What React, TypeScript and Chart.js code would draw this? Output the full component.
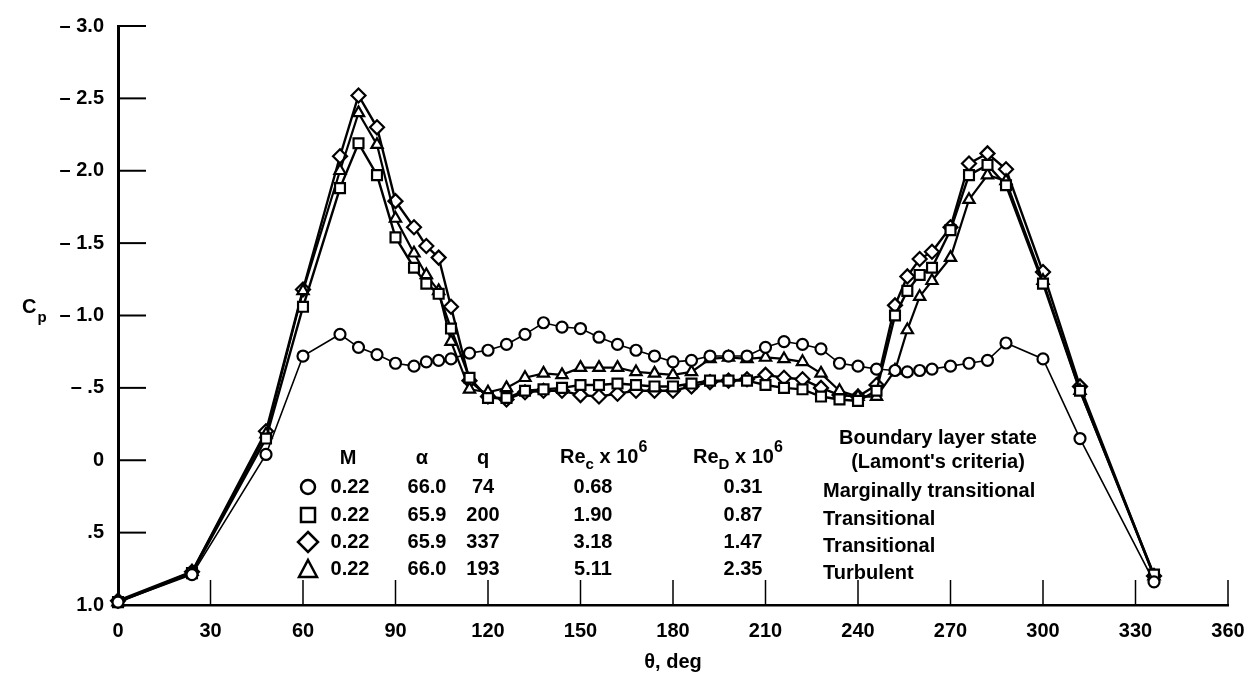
import React, { useEffect, useRef } from 'react';
import { Chart, registerables } from 'chart.js';

Chart.register(...registerables);

// ---------- data ----------
const THETA = [0, 24, 48, 60, 72, 78, 84, 90, 96, 100, 104, 108, 114, 120, 126, 132, 138, 144, 150, 156, 162, 168, 174, 180, 186, 192, 198, 204, 210, 216, 222, 228, 234, 240, 246, 252, 256, 260, 264, 270, 276, 282, 288, 300, 312, 336];

const CP_CIRCLE = [0.98, 0.79, -0.04, -0.72, -0.87, -0.78, -0.73, -0.67, -0.65, -0.68, -0.69, -0.70, -0.74, -0.76, -0.80, -0.87, -0.95, -0.92, -0.91, -0.85, -0.80, -0.76, -0.72, -0.68, -0.69, -0.72, -0.72, -0.72, -0.78, -0.82, -0.80, -0.77, -0.67, -0.65, -0.63, -0.62, -0.61, -0.62, -0.63, -0.65, -0.67, -0.69, -0.81, -0.70, -0.15, 0.84];

const CP_SQUARE = [0.98, 0.78, -0.15, -1.06, -1.88, -2.19, -1.97, -1.54, -1.33, -1.22, -1.15, -0.91, -0.57, -0.43, -0.43, -0.48, -0.49, -0.50, -0.52, -0.52, -0.53, -0.52, -0.51, -0.51, -0.53, -0.55, -0.55, -0.55, -0.52, -0.50, -0.49, -0.44, -0.42, -0.41, -0.48, -1.00, -1.17, -1.28, -1.33, -1.59, -1.97, -2.04, -1.90, -1.22, -0.48, 0.79];

const CP_DIAMOND = [0.97, 0.77, -0.20, -1.18, -2.10, -2.52, -2.30, -1.79, -1.61, -1.48, -1.40, -1.06, -0.55, -0.44, -0.42, -0.47, -0.48, -0.48, -0.45, -0.44, -0.46, -0.48, -0.48, -0.48, -0.51, -0.54, -0.55, -0.56, -0.59, -0.57, -0.56, -0.50, -0.45, -0.44, -0.52, -1.07, -1.27, -1.39, -1.44, -1.61, -2.05, -2.12, -2.01, -1.30, -0.51, 0.80];

const CP_TRIANGLE = [0.98, 0.77, -0.18, -1.17, -2.00, -2.40, -2.18, -1.67, -1.43, -1.28, -1.17, -0.82, -0.49, -0.47, -0.50, -0.57, -0.60, -0.59, -0.64, -0.64, -0.64, -0.61, -0.60, -0.59, -0.61, -0.70, -0.71, -0.70, -0.71, -0.70, -0.68, -0.60, -0.48, -0.44, -0.44, -0.62, -0.90, -1.13, -1.24, -1.40, -1.80, -1.97, -1.93, -1.24, -0.48, 0.80];

const X_TICKS = [0, 30, 60, 90, 120, 150, 180, 210, 240, 270, 300, 330, 360];
const Y_TICKS = [-3, -2.5, -2, -1.5, -1, -0.5, 0, 0.5, 1];
const Y_TICK_LABELS = ['– 3.0', '– 2.5', '– 2.0', '– 1.5', '– 1.0', '– .5', '0', '.5', '1.0'];

const LEG_SYMBOLS = ['circle', 'rect', 'rectRot', 'triangle'];
const LEG_M = ['0.22', '0.22', '0.22', '0.22'];
const LEG_ALPHA = ['66.0', '65.9', '65.9', '66.0'];
const LEG_Q = ['74', '200', '337', '193'];
const LEG_REC = ['0.68', '1.90', '3.18', '5.11'];
const LEG_RED = ['0.31', '0.87', '1.47', '2.35'];
const LEG_STATE = ['Marginally transitional', 'Transitional', 'Transitional', 'Turbulent'];

const FAMILY = '"Liberation Sans", Arial, Helvetica, sans-serif';
const F = (size: number) => `bold ${size}px ${FAMILY}`;

function pts(ys: number[]) {
  return THETA.map((t, i) => ({ x: t, y: ys[i] }));
}

function drawSymbol(ctx: CanvasRenderingContext2D, kind: string, x: number, y: number) {
  ctx.beginPath();
  if (kind === 'circle') {
    ctx.arc(x, y, 7, 0, Math.PI * 2);
  } else if (kind === 'rect') {
    ctx.rect(x - 7, y - 7, 14, 14);
  } else if (kind === 'rectRot') {
    ctx.moveTo(x, y - 10);
    ctx.lineTo(x + 10, y);
    ctx.lineTo(x, y + 10);
    ctx.lineTo(x - 10, y);
    ctx.closePath();
  } else {
    ctx.moveTo(x, y - 9);
    ctx.lineTo(x + 9, y + 8);
    ctx.lineTo(x - 9, y + 8);
    ctx.closePath();
  }
  ctx.fillStyle = '#fff';
  ctx.fill();
  ctx.stroke();
}

function drawRe(ctx: CanvasRenderingContext2D, x: number, y: number, sub: string) {
  ctx.textAlign = 'left';
  ctx.textBaseline = 'middle';
  ctx.font = F(20);
  ctx.fillText('Re', x, y);
  let cx = x + ctx.measureText('Re').width;
  ctx.font = F(15);
  ctx.fillText(sub, cx, y + 8);
  cx += ctx.measureText(sub).width;
  ctx.font = F(20);
  ctx.fillText(' x 10', cx, y);
  cx += ctx.measureText(' x 10').width;
  ctx.font = F(16);
  ctx.fillText('6', cx, y - 9);
}

const overlayPlugin = {
  id: 'overlay',
  afterDraw(chart: any) {
    const ctx: CanvasRenderingContext2D = chart.ctx;
    const xs = chart.scales.x;
    const ys = chart.scales.y;
    const { left, bottom } = chart.chartArea;
    ctx.save();
    ctx.strokeStyle = '#000';
    ctx.fillStyle = '#000';

    // inward tick marks
    ctx.lineWidth = 2;
    Y_TICKS.forEach((v) => {
      if (v === 1) return;
      const y = ys.getPixelForValue(v);
      ctx.beginPath();
      ctx.moveTo(left, y);
      ctx.lineTo(left + 28, y);
      ctx.stroke();
    });
    ctx.lineWidth = 1.5;
    X_TICKS.forEach((v) => {
      if (v === 0) return;
      const x = xs.getPixelForValue(v);
      ctx.beginPath();
      ctx.moveTo(x, bottom);
      ctx.lineTo(x, bottom - 25);
      ctx.stroke();
    });

    // axis titles
    ctx.font = F(20);
    ctx.textBaseline = 'middle';
    ctx.textAlign = 'left';
    ctx.fillText('C', 22, 307);
    const cw = ctx.measureText('C').width;
    ctx.font = F(15);
    ctx.fillText('p', 22 + cw + 1, 318);
    ctx.font = F(20);
    ctx.textAlign = 'center';
    ctx.fillText('θ, deg', (xs.left + xs.right) / 2, 662);

    // legend table
    ctx.fillStyle = '#000';
    ctx.font = F(20);
    ctx.textAlign = 'center';
    ctx.fillText('M', 348, 458);
    ctx.fillText('α', 422, 458);
    ctx.fillText('q', 483, 458);
    drawRe(ctx, 560, 457, 'c');
    drawRe(ctx, 693, 457, 'D');
    ctx.font = F(20);
    ctx.textAlign = 'center';
    ctx.fillText('Boundary layer state', 938, 438);
    ctx.fillText("(Lamont's criteria)", 938, 462);

    const rowY = [487, 515, 542, 569];
    const stateY = [491, 519, 546, 573];
    rowY.forEach((y, i) => {
      ctx.lineWidth = 2.5;
      ctx.strokeStyle = '#000';
      drawSymbol(ctx, LEG_SYMBOLS[i], 308, y);
      ctx.fillStyle = '#000';
      ctx.font = F(20);
      ctx.textAlign = 'center';
      ctx.textBaseline = 'middle';
      ctx.fillText(LEG_M[i], 350, y);
      ctx.fillText(LEG_ALPHA[i], 427, y);
      ctx.fillText(LEG_Q[i], 483, y);
      ctx.fillText(LEG_REC[i], 593, y);
      ctx.fillText(LEG_RED[i], 743, y);
      ctx.textAlign = 'left';
      ctx.fillText(LEG_STATE[i], 823, stateY[i]);
    });
    ctx.restore();
  },
};

function makeDataset(data: number[], style: string, radius: number, lw: number) {
  return {
    data: pts(data),
    pointStyle: style,
    pointRadius: radius,
    pointHoverRadius: radius,
    pointBorderWidth: 2.2,
    pointBackgroundColor: '#fff',
    pointBorderColor: '#000',
    borderColor: '#000',
    borderWidth: lw,
    backgroundColor: '#fff',
    tension: 0,
    fill: false,
    clip: false as any,
  };
}

export default function App() {
  const ref = useRef<HTMLCanvasElement | null>(null);
  useEffect(() => {
    if (!ref.current) return;
    const chart = new Chart(ref.current, {
      type: 'line',
      data: {
        datasets: [
          makeDataset(CP_CIRCLE, 'circle', 5.5, 1.6),
          makeDataset(CP_SQUARE, 'rect', 7, 2.4),
          makeDataset(CP_TRIANGLE, 'triangle', 6.5, 2.2),
          makeDataset(CP_DIAMOND, 'rectRot', 7, 2.4),
        ] as any,
      },
      options: {
        responsive: false,
        animation: false,
        devicePixelRatio: 1,
        events: [],
        layout: { padding: { top: 18, right: 31, left: 0, bottom: 0 } },
        plugins: {
          legend: { display: false },
          tooltip: { enabled: false },
          title: { display: false },
        },
        scales: {
          x: {
            type: 'linear',
            min: 0,
            max: 360,
            afterFit: (s: any) => { s.height = 72; },
            afterBuildTicks: (s: any) => { s.ticks = X_TICKS.map((v) => ({ value: v })); },
            grid: { display: false, drawTicks: false },
            border: { display: true, color: '#000', width: 2.5 },
            ticks: {
              color: '#000',
              font: { family: FAMILY, size: 20, weight: 'bold' },
              padding: 14,
              maxRotation: 0,
              autoSkip: false,
            },
          },
          y: {
            type: 'linear',
            min: -3,
            max: 1,
            reverse: true,
            afterFit: (s: any) => { s.width = 118; },
            afterBuildTicks: (s: any) => { s.ticks = Y_TICKS.map((v) => ({ value: v })); },
            grid: { display: false, drawTicks: false },
            border: { display: true, color: '#000', width: 3 },
            ticks: {
              color: '#000',
              font: { family: FAMILY, size: 20, weight: 'bold' },
              padding: 14,
              autoSkip: false,
              callback: (v: any) => {
                const i = Y_TICKS.indexOf(Number(v));
                return i >= 0 ? Y_TICK_LABELS[i] : '';
              },
            },
          },
        },
      } as any,
      plugins: [overlayPlugin],
    });
    return () => chart.destroy();
  }, []);
  return (
    <div style={{ position: 'absolute', left: 0, top: 0, width: 1259, height: 677, background: '#fff' }}>
      <canvas ref={ref} width={1259} height={677} style={{ width: 1259, height: 677, display: 'block' }} />
    </div>
  );
}
